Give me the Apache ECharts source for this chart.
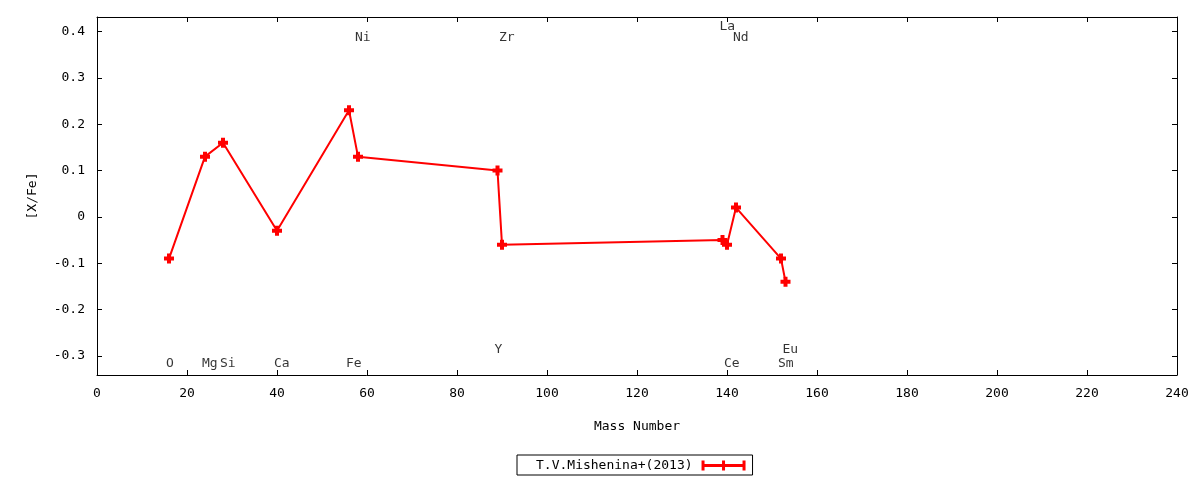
<!DOCTYPE html>
<html>
<head>
<meta charset="utf-8">
<script src="https://cdn.jsdelivr.net/npm/echarts@6/dist/echarts.min.js"></script>
<style>
html,body{margin:0;padding:0;background:#fff;}
#chart{width:1200px;height:480px;}
</style>
</head>
<body>
<div id="chart"></div>
<script>
// ---- data ----
const elements = ['O','Mg','Si','Ca','Fe','Ni','Y','Zr','La','Ce','Nd','Sm','Eu'];
const massNumbers = [16,24,28,40,56,58,89,90,139,140,142,152,153];
const xfeValues = [-0.09,0.13,0.16,-0.03,0.23,0.13,0.10,-0.06,-0.05,-0.06,0.02,-0.09,-0.14];
// element-name annotation heights (in [X/Fe] units)
const labelHeights = [-0.316,-0.316,-0.316,-0.316,-0.316,0.386,-0.286,0.386,0.411,-0.316,0.386,-0.316,-0.286];
const xTicks = [0,20,40,60,80,100,120,140,160,180,200,220,240];
const yTicks = [-0.3,-0.2,-0.1,0,0.1,0.2,0.3,0.4];
const seriesName = 'T.V.Mishenina+(2013)';

const FONT = 'DejaVu Sans Mono';
const FS = 13;
const yMin = -0.3412, yMax = 0.4313;

const lineData = massNumbers.map((m,i)=>[m, xfeValues[i]]);
const labelData = massNumbers.map((m,i)=>({value:[m, labelHeights[i]], name:elements[i]}));

const plus = 'path://M3,0H7V3H10V7H7V10H3V7H0V3H3Z';
const legendIcon = 'path://M0,3.5H44V6.5H0Z M0,0H3V10H0Z M20.5,0H23.5V10H20.5Z M41,0H44V10H41Z';

const yFmt = v => Math.abs(v) < 1e-9 ? '0' : Number(v).toFixed(1);

const chart = echarts.init(document.getElementById('chart'));
chart.setOption({
  animation:false,
  backgroundColor:'#fff',
  textStyle:{fontFamily:FONT, fontSize:FS, color:'#000'},
  grid:{left:97, right:23, top:17, bottom:105, containLabel:false},
  legend:{
    left:517, top:455,
    data:[{name:seriesName, icon:legendIcon}],
    itemWidth:44, itemHeight:10,
    align:'right',
    borderColor:'#000', borderWidth:1, borderRadius:0,
    padding:[4,7,3,19],
    textStyle:{fontFamily:FONT, fontSize:FS, color:'#000', padding:[0,4,0,0]},
    selectedMode:false
  },
  xAxis:[{
    type:'value', min:0, max:240, interval:20,
    name:'Mass Number', nameLocation:'middle', nameGap:45,
    nameTextStyle:{fontFamily:FONT, fontSize:FS, color:'#000'},
    axisLine:{show:true, onZero:false, lineStyle:{color:'#000', width:1}},
    axisTick:{show:true, inside:true, length:5, lineStyle:{color:'#000'}},
    axisLabel:{show:true, margin:12, fontFamily:FONT, fontSize:FS, color:'#000', showMinLabel:true, showMaxLabel:true,
      customValues: xTicks},
    splitLine:{show:false}
  },{
    type:'value', position:'top', min:0, max:240, interval:20,
    axisLine:{show:true, onZero:false, lineStyle:{color:'#000', width:1}},
    axisTick:{show:true, inside:true, length:5, lineStyle:{color:'#000'}},
    axisLabel:{show:false},
    splitLine:{show:false}
  }],
  yAxis:[{
    type:'value', min:yMin, max:yMax,
    name:'[X/Fe]', nameLocation:'middle', nameGap:58, nameRotate:90,
    nameTextStyle:{fontFamily:FONT, fontSize:FS, color:'#000'},
    axisLine:{show:true, onZero:false, lineStyle:{color:'#000', width:1}},
    axisTick:{show:true, inside:true, length:5, lineStyle:{color:'#000'}, customValues: yTicks},
    axisLabel:{show:true, margin:12, fontFamily:FONT, fontSize:FS, color:'#000', customValues: yTicks, formatter:yFmt},
    splitLine:{show:false}
  },{
    type:'value', position:'right', min:yMin, max:yMax,
    axisLine:{show:true, onZero:false, lineStyle:{color:'#000', width:1}},
    axisTick:{show:true, inside:true, length:5, lineStyle:{color:'#000'}, customValues: yTicks},
    axisLabel:{show:false, customValues: yTicks},
    splitLine:{show:false}
  }],
  series:[{
    name:seriesName,
    type:'line',
    xAxisIndex:0, yAxisIndex:0,
    data:lineData,
    color:'#ff0000',
    lineStyle:{color:'#ff0000', width:2},
    itemStyle:{color:'#ff0000'},
    symbol:plus, symbolSize:10,
    showAllSymbol:true,
    z:3
  },{
    name:'labels',
    type:'scatter',
    xAxisIndex:0, yAxisIndex:0,
    data:labelData,
    symbolSize:1,
    itemStyle:{color:'rgba(0,0,0,0)'},
    label:{show:true, position:'inside', align:'left', verticalAlign:'middle', offset:[-3,0],
      formatter: p => p.name, fontFamily:FONT, fontSize:FS, color:'#000'},
    silent:true,
    z:2
  }]
});
</script>
</body>
</html>
